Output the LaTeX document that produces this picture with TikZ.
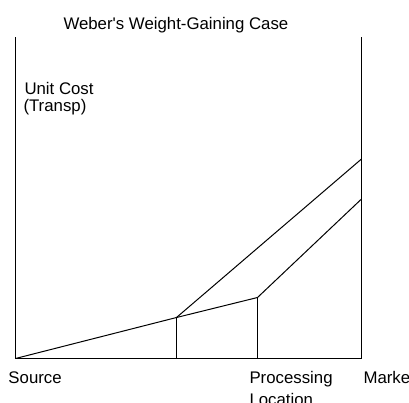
\documentclass[tikz,border=0pt]{standalone}
\usepackage{fontspec}
\setmainfont{Liberation Sans}
\usepackage{tikz}

\begin{document}
\begin{tikzpicture}[x=1pt,y=-1pt,line width=1pt,
    lbl/.style={anchor=base west,inner sep=0pt,font=\fontsize{16.8}{17}\selectfont}]
      \useasboundingbox (0,0) rectangle (409,402);
      \clip (0,0) rectangle (409,402);

      \coordinate (src) at (15.5,358.5);
      \coordinate (mkt) at (361.5,358.5);
      \coordinate (a) at (176.5,317.5);
      \coordinate (b) at (257.5,297.5);
      \coordinate (hi) at (361.5,159);
      \coordinate (lo) at (361.5,199);

      \draw (15.5,37) -- (src) -- (mkt) -- (361.5,37);
      \draw (src) -- (a) -- (b) -- (lo);
      \draw (a) -- (hi);
      \foreach \p in {a,b}
        \draw (\p) -- (\p |- src);

      \node [lbl] (title) at (63,29) {Weber\textquotesingle s Weight-Gaining Case};
      \node [lbl] (ucost) at (24,94) {Unit Cost};
      \node [lbl] (transp) at (23,111) {(Transp)};
      \node [lbl] (source) at (8,383) {Source};
      \node [lbl] (proc) at (249,383) {Processing};
      \node [lbl] (loc) at (249,405.5) {Location};
      \node [lbl] (market) at (363,383) {Market};
    \end{tikzpicture}
\end{document}
